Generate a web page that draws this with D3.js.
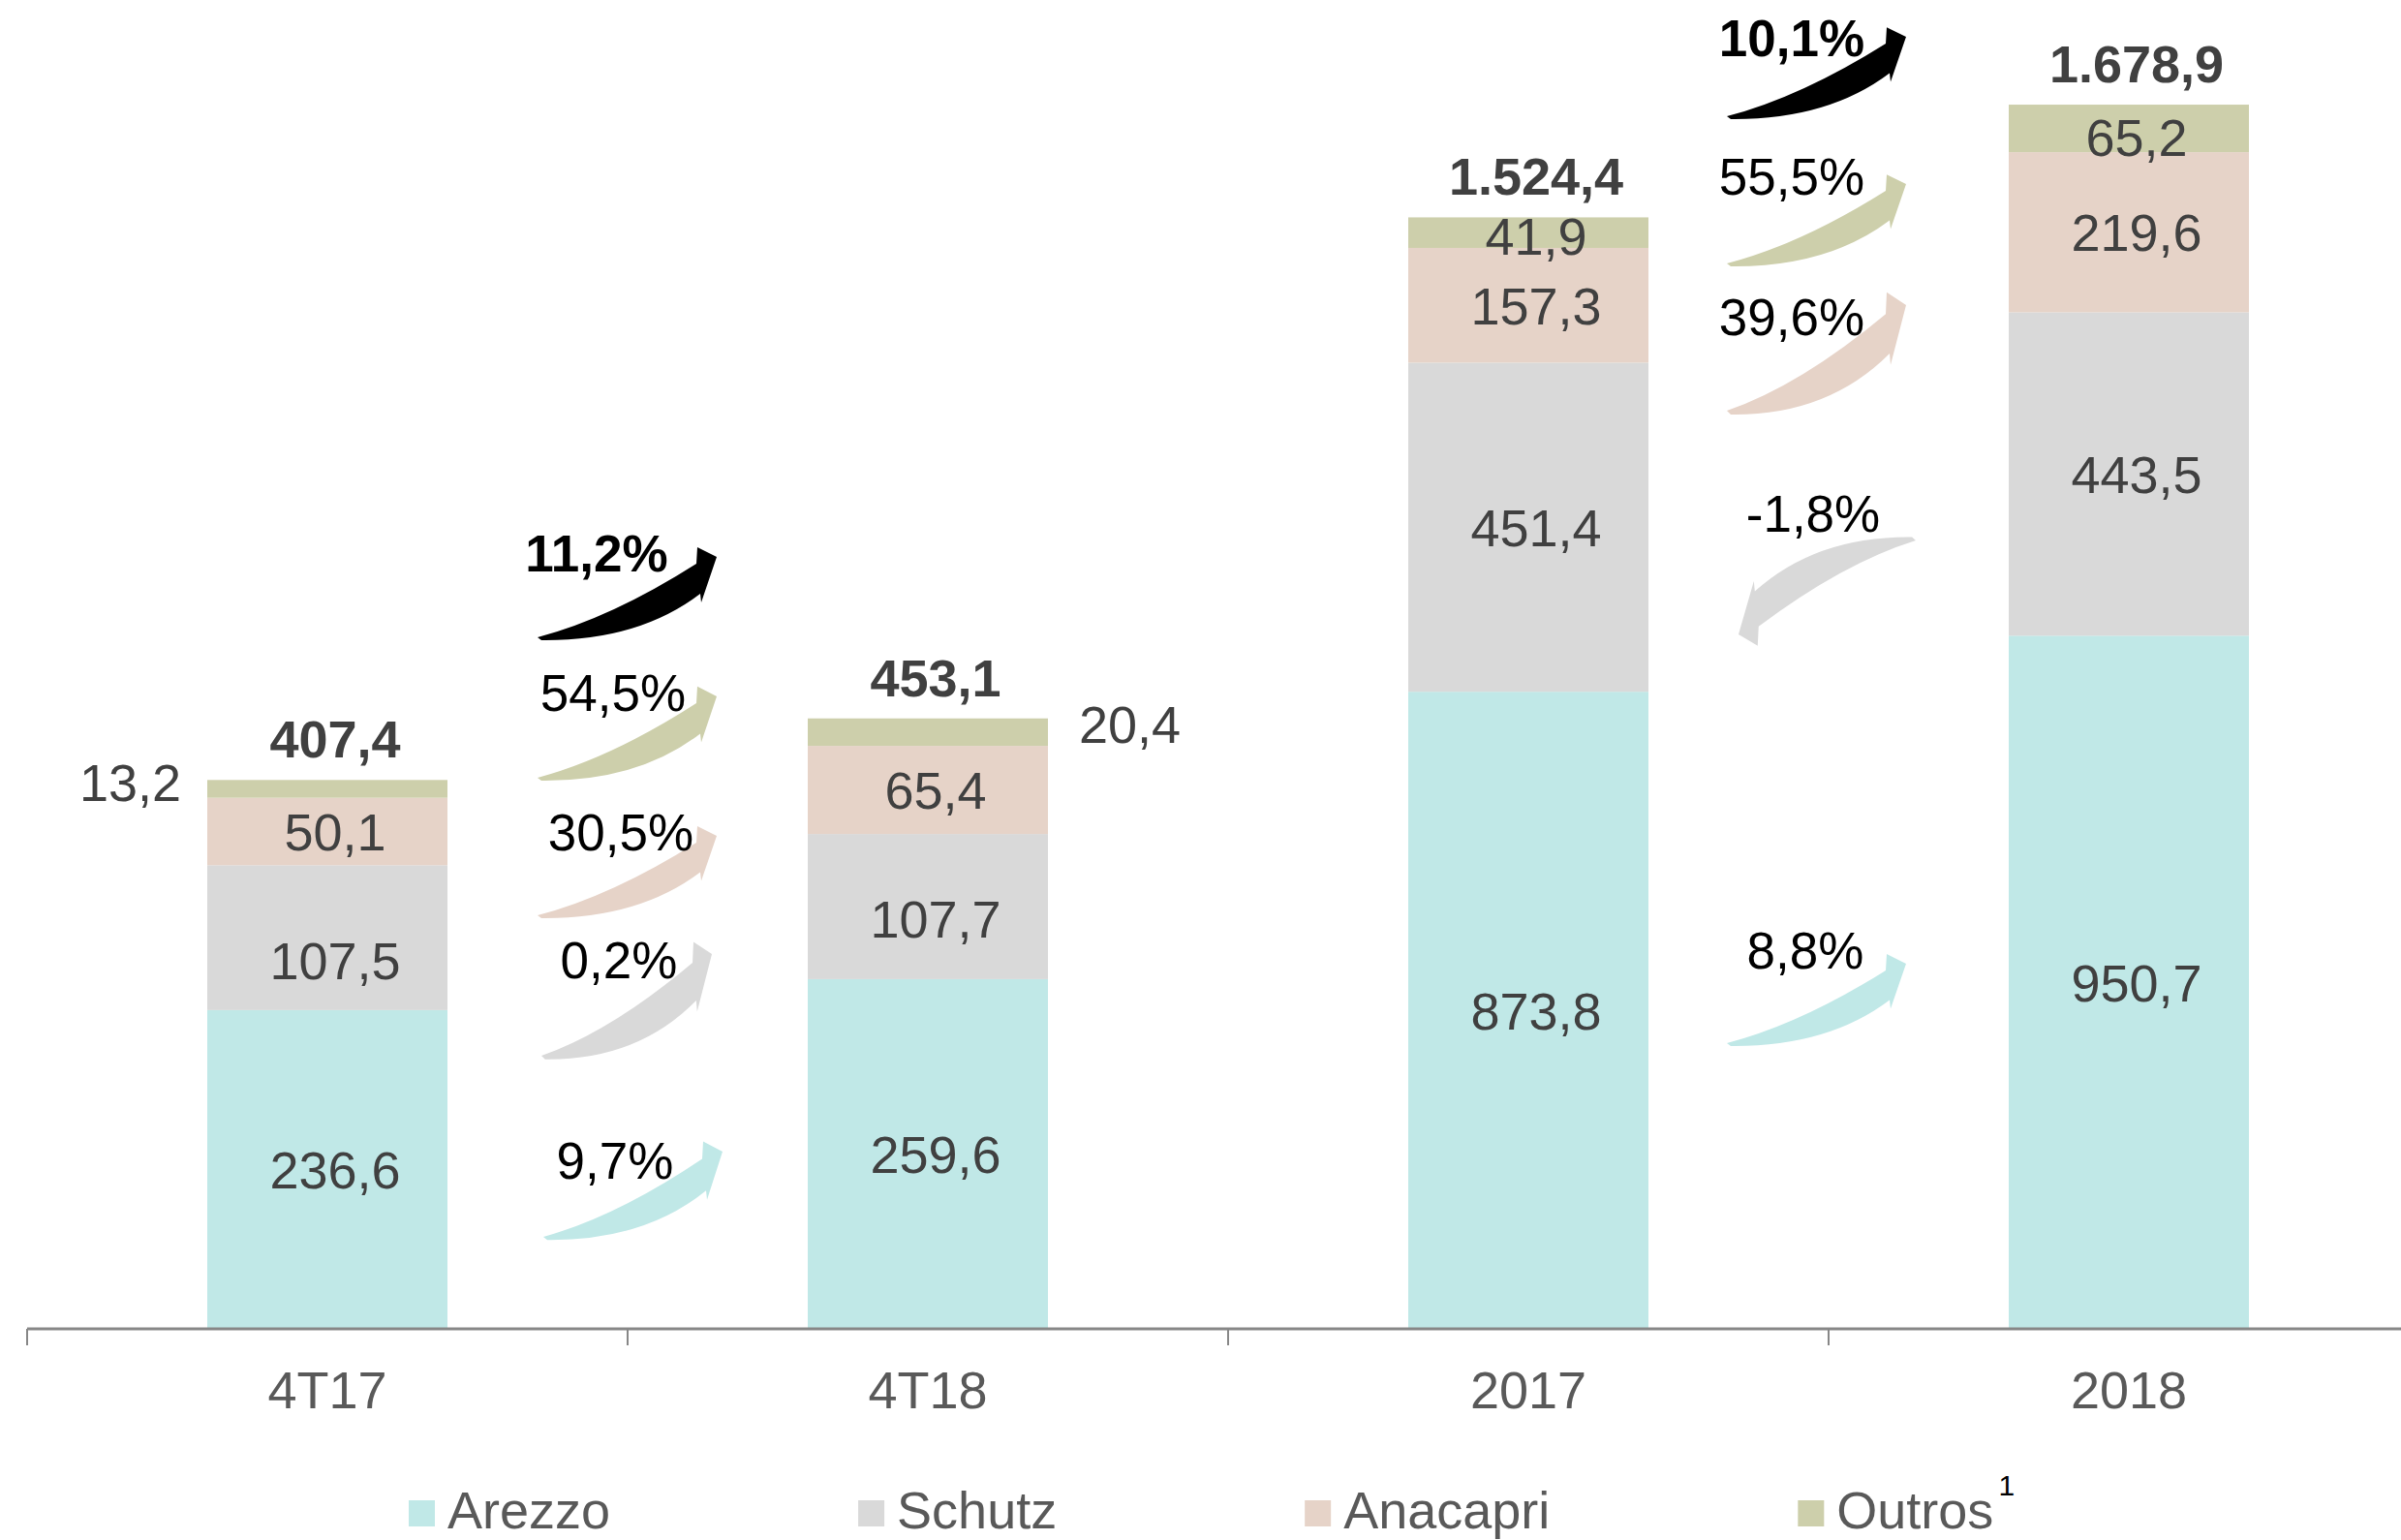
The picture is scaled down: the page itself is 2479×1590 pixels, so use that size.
<!DOCTYPE html>
<html>
<head>
<meta charset="utf-8">
<script src="https://cdn.jsdelivr.net/npm/d3@7"></script>
<style>
  html, body { margin: 0; padding: 0; background: #ffffff; }
  svg { display: block; font-family: "Liberation Sans", Arial, sans-serif; }
</style>
</head>
<body>
<svg id="chart" width="2479" height="1590"></svg>
<script>
// ---------------- DATA ----------------
const categories = ["4T17", "4T18", "2017", "2018"];
const series = ["Arezzo", "Schutz", "Anacapri", "Outros"];
const arezzo   = [236.6, 259.6, 873.8, 950.7];
const schutz   = [107.5, 107.7, 451.4, 443.5];
const anacapri = [50.1, 65.4, 157.3, 219.6];
const outros   = [13.2, 20.4, 41.9, 65.2];
const totals   = [407.4, 453.1, 1524.4, 1678.9];
// growth labels, order: Total, Outros, Anacapri, Schutz, Arezzo
const growthKeys = ["Total", "Outros", "Anacapri", "Schutz", "Arezzo"];
const growthQuarter = ["11,2%", "54,5%", "30,5%", "0,2%", "9,7%"];
const growthYear    = ["10,1%", "55,5%", "39,6%", "-1,8%", "8,8%"];

// ---------------- LAYOUT / STYLE ----------------
const W = 2479, H = 1590;
const baseY = 1372;
const colors = { Arezzo: "#c0e8e7", Schutz: "#d9d9d9", Anacapri: "#e6d3c8", Outros: "#cdcfab", Total: "#000000" };
const valueColor = "#404040", axisTextColor = "#595959";
const fontSize = 54;
const labelShiftX = 8;
const scaleOf = ["q", "q", "a", "a"]; // which value axis each category uses

// annotation placement (levels in value units of the group's axis, offsets in px)
const annotLayout = {
  q: { between: ["4T17", "4T18"],
       textLevel:  [562.2, 458.7, 355.1, 260.2, 111.4],
       arrowLevel: [513.3, 409.1, 307.0, 202.7, 68.3],
       textDx:  [-32, -15, -7, -9, -13],
       arrowDx: [-93, -93, -93, -89, -87],
       arrowSize: [[185, -83], [185, -84], [185, -82], [176, -105], [185, -88]] },
  a: { between: ["2017", "2018"],
       textLevel:  [1745.5, 1555.5, 1363.0, 1093.3, 494.2],
       arrowLevel: [1663.1, 1461.2, 1259.3, 1081.3, 391.9],
       textDx:  [-38, -38, -38, -16, -24],
       arrowDx: [-105, -105, -105, 90, -105],
       arrowSize: [[185, -82], [185, -82], [185, -109], [-183, 97], [185, -82]] }
};

const svg = d3.select("#chart");
svg.append("rect").attr("width", W).attr("height", H).attr("fill", "#fff");

const fmt = d3.formatLocale({ decimal: ",", thousands: ".", grouping: [3], currency: ["", ""] }).format(",.1f");

// ---------------- SCALES ----------------
const x = d3.scaleBand().domain(categories).range([28, 28 + 4 * 620]).paddingInner(0).paddingOuter(0);
const barW = x.bandwidth() * 0.4;
const yScales = {
  q: d3.scaleLinear().domain([0, 1000]).range([baseY, baseY - 1391]),
  a: d3.scaleLinear().domain([0, 2000]).range([baseY, baseY - 2 * 752.8])
};

const rows = categories.map((c, i) => ({ cat: c, i, Arezzo: arezzo[i], Schutz: schutz[i], Anacapri: anacapri[i], Outros: outros[i] }));
const stacked = d3.stack().keys(series)(rows);

// ---------------- BARS ----------------
const gBars = svg.append("g");
stacked.forEach(layer => {
  gBars.selectAll(null).data(layer).enter().append("rect")
    .attr("x", d => x(d.data.cat) + (x.bandwidth() - barW) / 2)
    .attr("width", barW)
    .attr("y", d => yScales[scaleOf[d.data.i]](d[1]))
    .attr("height", d => yScales[scaleOf[d.data.i]](d[0]) - yScales[scaleOf[d.data.i]](d[1]))
    .attr("fill", colors[layer.key]);
});

// ---------------- SEGMENT LABELS ----------------
const labelNudge = { Schutz: [23, 13, 0, 0], Outros: [-7, -8, 3, 9] };
const outrosPlacement = ["left", "right", "inside", "inside"];
const gLab = svg.append("g").attr("font-size", fontSize).attr("fill", valueColor);
stacked.forEach(layer => {
  layer.forEach(d => {
    const ys = yScales[scaleOf[d.data.i]];
    const mid = (ys(d[0]) + ys(d[1])) / 2 + ((labelNudge[layer.key] || [])[d.data.i] || 0);
    let cx = x(d.data.cat) + x.bandwidth() / 2 + labelShiftX, anchor = "middle";
    if (layer.key === "Outros") {
      const pl = outrosPlacement[d.data.i];
      if (pl === "left") { cx = x(d.data.cat) + (x.bandwidth() - barW) / 2 - 27; anchor = "end"; }
      if (pl === "right") { cx = x(d.data.cat) + (x.bandwidth() + barW) / 2 + 32; anchor = "start"; }
    }
    gLab.append("text").attr("x", cx).attr("y", mid).attr("dy", "0.36em")
      .attr("text-anchor", anchor).text(fmt(d.data[layer.key]));
  });
});

// totals
svg.append("g").selectAll("text").data(categories).enter().append("text")
  .attr("x", c => x(c) + x.bandwidth() / 2 + labelShiftX)
  .attr("y", (c, i) => yScales[scaleOf[i]](arezzo[i] + schutz[i] + anacapri[i] + outros[i]) - 23)
  .attr("text-anchor", "middle").attr("font-size", fontSize).attr("font-weight", "bold")
  .attr("fill", valueColor).text((c, i) => fmt(totals[i]));

// ---------------- AXIS ----------------
const gAxis = svg.append("g");
gAxis.append("line").attr("x1", 28).attr("x2", W).attr("y1", baseY).attr("y2", baseY)
  .attr("stroke", "#878787").attr("stroke-width", 3);
gAxis.selectAll("line.tick").data(categories).enter().append("line").attr("class", "tick")
  .attr("x1", c => x(c)).attr("x2", c => x(c)).attr("y1", baseY).attr("y2", baseY + 17)
  .attr("stroke", "#878787").attr("stroke-width", 2);
const axisG = svg.append("g").attr("transform", `translate(0,${baseY})`)
  .call(d3.axisBottom(x).tickSize(0).tickPadding(44));
axisG.select(".domain").remove();
axisG.selectAll("text").attr("font-size", fontSize).attr("fill", axisTextColor)
  .attr("font-family", "Liberation Sans, Arial, sans-serif");

// ---------------- GROWTH ARROWS ----------------
// canonical swoosh: tail at (0,0), tip at (185,-83)
const arrowShape = "M0,0 Q76,-20 164,-76 L165,-93 L185,-83 L169,-36 L168,-45 Q104,4 4,3 Z";
function drawGrowth(key, labels) {
  const L = annotLayout[key], ys = yScales[key];
  const bx = x(L.between[1]);
  const g = svg.append("g");
  labels.forEach((lab, j) => {
    const s = L.arrowSize[j];
    g.append("path").attr("d", arrowShape)
      .attr("transform", `translate(${bx + L.arrowDx[j]},${ys(L.arrowLevel[j])}) scale(${s[0] / 185},${s[1] / -83})`)
      .attr("fill", colors[growthKeys[j]]);
    g.append("text").attr("x", bx + L.textDx[j]).attr("y", ys(L.textLevel[j]))
      .attr("text-anchor", "middle").attr("font-size", 53)
      .attr("font-weight", growthKeys[j] === "Total" ? "bold" : "normal")
      .attr("fill", "#000").text(lab);
  });
}
drawGrowth("q", growthQuarter);
drawGrowth("a", growthYear);

// ---------------- LEGEND ----------------
const gLeg = svg.append("g");
let lx = 422;
series.forEach((s, i) => {
  gLeg.append("rect").attr("x", lx).attr("y", 1549).attr("width", 27).attr("height", 27).attr("fill", colors[s]);
  const t = gLeg.append("text").attr("x", lx + 40).attr("y", 1578).attr("font-size", fontSize)
    .attr("fill", axisTextColor).text(s);
  const w = t.node().getComputedTextLength();
  if (s === "Outros") {
    gLeg.append("text").attr("x", lx + 40 + w + 5).attr("y", 1544).attr("font-size", 30)
      .attr("fill", "#000").text("1");
  }
  lx += 40 + w + 256;
});
</script>
</body>
</html>
